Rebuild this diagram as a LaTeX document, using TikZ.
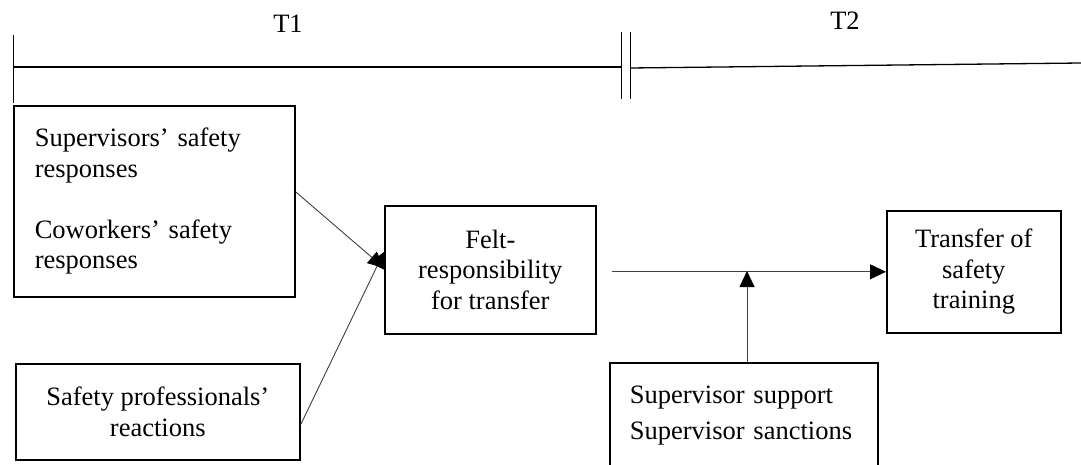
\documentclass[tikz,border=0pt]{standalone}
\usepackage{fontspec}
\setmainfont{Liberation Serif}
\usetikzlibrary{arrows.meta,calc}
\begin{document}
\begin{tikzpicture}[x=1pt,y=-1pt,
  box/.style={draw=black,line width=1.6pt,inner ysep=0pt,anchor=north west,
    font=\fontsize{26.5}{30.5}\selectfont},
  arr/.style={draw=black!75,line width=0.9pt,
    -{Triangle[length=16pt,width=15pt,fill=black,color=black]}},
  thinline/.style={line width=1pt},
  lbl/.style={font=\fontsize{26.5}{30.5}\selectfont,inner sep=0pt}]
\clip (0,0) rectangle (1081,465);
\fill[white] (0,0) rectangle (1081,465);
% timeline
\coordinate (tl0) at (13,67);
\coordinate (tl1) at (621,67);
\coordinate (tr0) at (630,68);
\coordinate (tr1) at (1081,63);
\draw[thinline] (13,35) -- (13,103);
\draw[line width=2pt] (tl0) -- (tl1);
\draw[thinline] (621,32) -- (621,99);
\draw[thinline] (630,32) -- (630,99);
\draw[line width=1.3pt] (tr0) -- (tr1);
\node[lbl] (t1) at (288,24) {T1};
\node[lbl] (t2) at (845,21) {T2};
% boxes
\node[box,text width=239pt,inner xsep=21pt,minimum height=191pt,align=left] (sup) at (13,105)
  {Supervisors’ safety\\ responses\\[30.5pt] Coworkers’ safety\\ responses\par\vspace*{9pt}};
\node[box,minimum width=284pt,minimum height=96pt,align=center] (prof) at (15,363)
  {Safety professionals’\\ reactions};
\node[box,minimum width=211pt,minimum height=128pt,align=center] (felt) at (384,205)
  {Felt-\\ responsibility\\ for transfer};
\node[box,minimum width=174pt,minimum height=122pt,align=center] (trans) at (886,210)
  {Transfer of\\ safety\\ training};
\node[box,text width=228pt,inner xsep=20pt,minimum height=105pt,align=left,
  font=\fontsize{26.5}{36}\selectfont] (mod) at (609,362)
  {Supervisor support\\ Supervisor sanctions};
% connectors
\draw[arr] ([yshift=9.5pt]sup.east) -- ([yshift=2pt]felt.west);
\draw[arr] ([yshift=-13pt]prof.east) -- ([yshift=18pt]felt.west);
\coordinate (hstart) at ([xshift=15pt]felt.east |- trans.west);
\coordinate (hmid) at (747,271);
\draw[arr] (hstart) -- (trans.west);
\draw[arr] (mod.north -| hmid) -- (hmid);
\end{tikzpicture}
\end{document}
